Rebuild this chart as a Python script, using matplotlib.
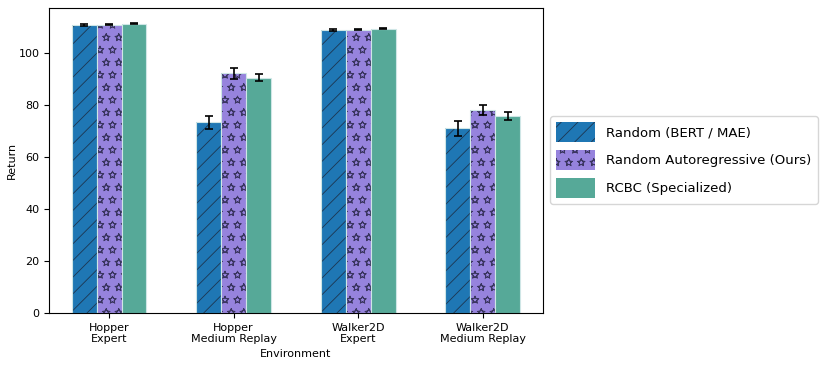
import matplotlib.pyplot as plt
import matplotlib.hatch as mhatch
import numpy as np

# hollow stars, a bit denser than the default '*' hatch
class HollowStars(mhatch.Stars):
    filled = False
    size = 0.3

    def __init__(self, hatch, density):
        super().__init__(hatch, density * 8 // 6)

mhatch._hatch_types[mhatch._hatch_types.index(mhatch.Stars)] = HollowStars
plt.rcParams['hatch.linewidth'] = 0.6

envs = ['Hopper\nExpert', 'Hopper\nMedium Replay', 'Walker2D\nExpert', 'Walker2D\nMedium Replay']
labels = ['Random (BERT / MAE)', 'Random Autoregressive (Ours)', 'RCBC (Specialized)']
bert_mean = [110.9, 73.5, 109.0, 71.2]
bert_err = [0.3, 2.5, 0.4, 2.8]
ours_mean = [111.1, 92.3, 109.2, 78.3]
ours_err = [0.3, 2.3, 0.3, 2.0]
rcbc_mean = [111.5, 90.7, 109.6, 75.8]
rcbc_err = [0.3, 1.3, 0.2, 1.5]

colors = ['#1f77b4', '#9683dd', '#56a998']
hatches = ['//', '*', '']
hatch_col = ['#1d3550', '#3a3560', 'none']

fig = plt.figure(figsize=(8.22, 3.67), dpi=100)
ax = fig.add_axes([0.06, 0.147, 0.60, 0.831])

x = np.arange(len(envs))
w = 0.2
series = [(bert_mean, bert_err), (ours_mean, ours_err), (rcbc_mean, rcbc_err)]
for i, (m, e) in enumerate(series):
    ax.bar(x + (i - 1) * w, m, w, color=colors[i], hatch=hatches[i],
           edgecolor=hatch_col[i], linewidth=0, label=labels[i])
    # light outline + error bars on top
    ax.bar(x + (i - 1) * w, m, w, yerr=e, capsize=3, fill=False,
           edgecolor='#cfe6e6', linewidth=0.8,
           error_kw=dict(ecolor='black', elinewidth=1.2, capthick=1.2))

ax.set_xticks(x)
ax.set_xticklabels(envs, fontsize=8)
ax.tick_params(axis='y', labelsize=8)
ax.set_xlabel('Environment', fontsize=8, labelpad=3)
ax.set_ylabel('Return', fontsize=8, labelpad=1)
ax.set_ylim(0, 117.5)

fig.legend(loc='center left', bbox_to_anchor=(0.669, 0.564), fontsize=9.5,
           borderaxespad=0, borderpad=0.45, handlelength=3.0, handleheight=1.95,
           labelspacing=0.6, handletextpad=0.83)

fig.savefig('out.png', dpi=100)
